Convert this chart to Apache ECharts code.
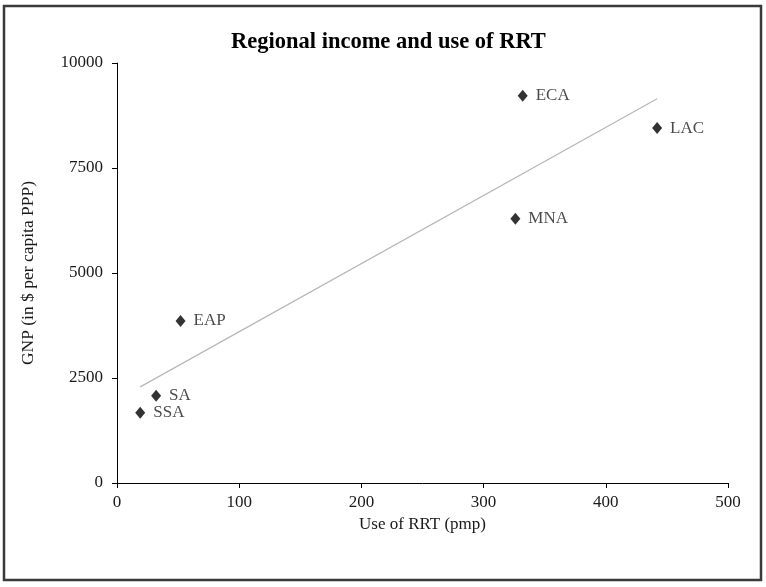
<!DOCTYPE html>
<html><head><meta charset="utf-8">
<script src="https://cdn.jsdelivr.net/npm/echarts@6/dist/echarts.min.js"></script>
<style>html,body{margin:0;padding:0;background:#fff}#c{width:766px;height:587px}</style>
</head><body><div id="c"></div>
<script>
var regions = ['ECA', 'LAC', 'MNA', 'EAP', 'SA', 'SSA'];
var rrtUse = [332, 442, 326, 52, 32, 19];
var gnp = [9220, 8450, 6290, 3860, 2080, 1670];
var trendX = [19, 442];
var trendY = [2290, 9150];
var xTicks = [0, 100, 200, 300, 400, 500];
var yTicks = [0, 2500, 5000, 7500, 10000];

var font = '"Liberation Serif", "Times New Roman", serif';
var chart = echarts.init(document.getElementById('c'), null, {renderer: 'canvas'});
var points = regions.map(function (r, i) { return {name: r, value: [rrtUse[i], gnp[i]]}; });
var trend = trendX.map(function (x, i) { return [x, trendY[i]]; });

chart.setOption({
  animation: false,
  backgroundColor: '#fff',
  title: {
    text: 'Regional income and use of RRT',
    left: 226, top: 26,
    textStyle: {fontFamily: font, fontWeight: 'bold', fontSize: 22.5, color: '#000'}
  },
  grid: {left: 117, right: 38, top: 63, bottom: 104, containLabel: false},
  xAxis: {
    type: 'value', min: xTicks[0], max: xTicks[xTicks.length - 1], interval: 100,
    name: 'Use of RRT (pmp)', nameLocation: 'middle', nameGap: 31,
    nameTextStyle: {fontFamily: font, fontSize: 17, color: '#1a1a1a'},
    axisLine: {show: true, onZero: false, lineStyle: {color: '#000', width: 1}},
    axisTick: {show: true, length: 5, inside: false, lineStyle: {color: '#000'}},
    axisLabel: {fontFamily: font, fontSize: 17, color: '#1a1a1a', margin: 11,
      formatter: function (v) { return String(v); }},
    splitLine: {show: false}
  },
  yAxis: {
    type: 'value', min: yTicks[0], max: yTicks[yTicks.length - 1], interval: 2500,
    name: 'GNP (in $ per capita PPP)', nameLocation: 'middle', nameGap: 80, nameRotate: 90,
    nameTextStyle: {fontFamily: font, fontSize: 17.5, color: '#1a1a1a'},
    axisLine: {show: true, onZero: false, lineStyle: {color: '#000', width: 1}},
    axisTick: {show: true, length: 5, inside: false, lineStyle: {color: '#000'}},
    axisLabel: {fontFamily: font, fontSize: 17, color: '#1a1a1a', margin: 14,
      formatter: function (v) { return String(v); }},
    splitLine: {show: false}
  },
  graphic: [{
    type: 'rect', shape: {x: 4, y: 6, width: 757, height: 574},
    style: {fill: 'none', stroke: '#3a3a3a', lineWidth: 2.5}, silent: true, z: 100
  }],
  series: [{
    type: 'line', data: trend, symbol: 'none', silent: true,
    lineStyle: {color: '#b8b8b8', width: 1.3}, z: 1
  }, {
    type: 'scatter', data: points, symbol: 'diamond', symbolSize: [10, 12],
    itemStyle: {color: '#000'}, z: 2,
    label: {
      show: true, position: 'right', distance: 8, formatter: '{b}',
      fontFamily: font, fontSize: 17, color: '#1a1a1a'
    }
  }]
});
</script></body></html>
